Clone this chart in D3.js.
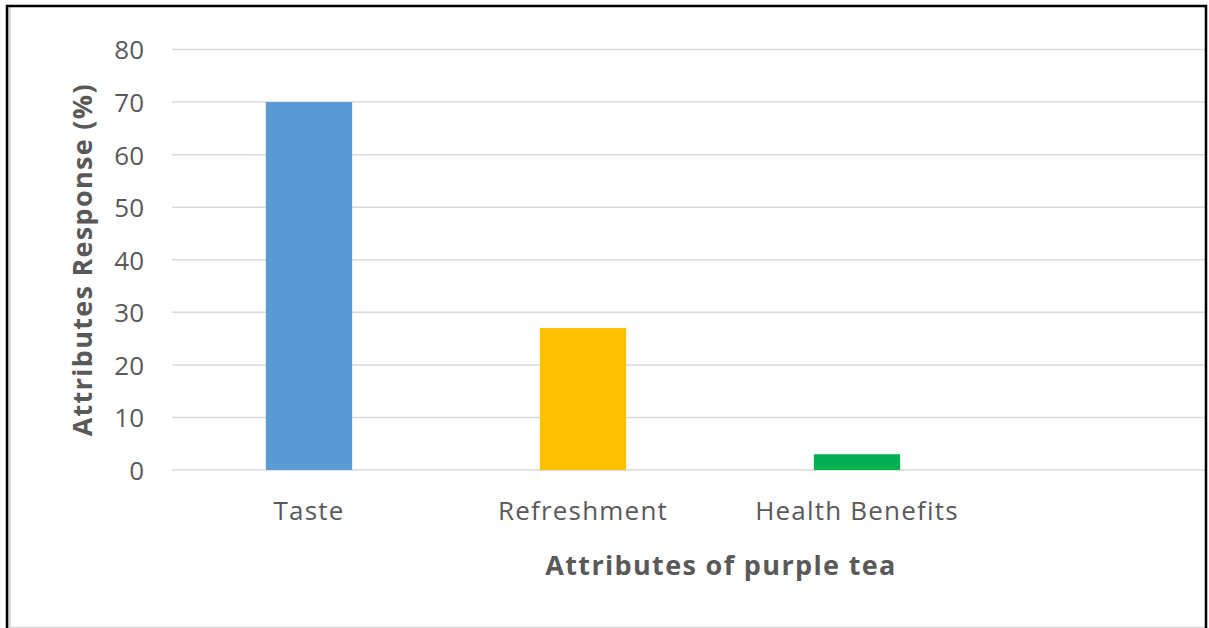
<!DOCTYPE html>
<html>
<head>
<meta charset="utf-8">
<script src="https://cdn.jsdelivr.net/npm/d3@7"></script>
<style>
  html, body { margin: 0; padding: 0; background: #fff; }
  svg { display: block; }
  text { font-family: "Open Sans", Lato, sans-serif; }
</style>
</head>
<body>
<svg id="chart" width="1209" height="628"></svg>
<script>
const categories = ["Taste", "Refreshment", "Health Benefits"];
const values = [70, 27, 3];
const colors = ["#5B9BD5", "#FFC000", "#00B050"];
const yTicks = [0, 10, 20, 30, 40, 50, 60, 70, 80];
const xTitle = "Attributes of purple tea";
const yTitle = "Attributes Response (%)";

const svg = d3.select("#chart");
const W = 1209, H = 628;
const plotLeft = 172, step = 274, gridRight = 1205;
const plotTop = 49.5, plotBottom = 470;
const FONT = "'Open Sans', Lato, sans-serif";

svg.append("rect").attr("x", 0).attr("y", 0).attr("width", W).attr("height", H).attr("fill", "#fff");

const x = d3.scaleBand()
  .domain(categories)
  .range([plotLeft, plotLeft + step * categories.length])
  .paddingInner(0.685)
  .paddingOuter(0.685 / 2);

const y = d3.scaleLinear().domain([0, 80]).range([plotBottom, plotTop]);

// gridlines
svg.append("g")
  .selectAll("line")
  .data(yTicks)
  .join("line")
  .attr("x1", plotLeft).attr("x2", gridRight)
  .attr("y1", d => y(d)).attr("y2", d => y(d))
  .attr("stroke", "#d9d9d9").attr("stroke-width", 1.5);

// y axis labels
const yAxis = d3.axisLeft(y).tickValues(yTicks).tickSize(0).tickPadding(0);
const gy = svg.append("g").attr("transform", `translate(144,0)`).call(yAxis);
gy.select(".domain").remove();
gy.selectAll("text")
  .attr("font-family", FONT)
  .attr("font-size", 26)
  .attr("fill", "#595959")
  .attr("dy", "0.36em");

// bars
svg.append("g")
  .selectAll("rect")
  .data(categories)
  .join("rect")
  .attr("x", d => x(d))
  .attr("width", x.bandwidth())
  .attr("y", (d, i) => y(values[i]))
  .attr("height", (d, i) => y(0) - y(values[i]))
  .attr("fill", (d, i) => colors[i]);

// x axis labels
const xAxis = d3.axisBottom(x).tickSize(0).tickPadding(0);
const gx = svg.append("g").attr("transform", `translate(0,${plotBottom})`).call(xAxis);
gx.select(".domain").remove();
gx.selectAll("text")
  .attr("font-family", FONT)
  .attr("font-size", 26)
  .attr("letter-spacing", 1.2)
  .attr("fill", "#595959")
  .attr("dy", null)
  .attr("y", 50);

// axis titles
svg.append("text")
  .attr("x", 721).attr("y", 575)
  .attr("text-anchor", "middle")
  .attr("font-family", FONT)
  .attr("font-size", 27).attr("font-weight", "bold")
  .attr("letter-spacing", 1.35)
  .attr("fill", "#595959")
  .text(xTitle);

svg.append("text")
  .attr("transform", `translate(92,${(plotTop + plotBottom) / 2}) rotate(-90)`)
  .attr("text-anchor", "middle")
  .attr("font-family", FONT)
  .attr("font-size", 27).attr("font-weight", "bold")
  .attr("letter-spacing", 1.3)
  .attr("fill", "#595959")
  .text(yTitle);

// frames
svg.append("line").attr("x1", 9.5).attr("x2", 9.5).attr("y1", 7).attr("y2", H)
  .attr("stroke", "#d9d9d9").attr("stroke-width", 3);
svg.append("line").attr("x1", 8).attr("x2", 1205).attr("y1", 627.5).attr("y2", 627.5)
  .attr("stroke", "#d9d9d9").attr("stroke-width", 1.5);
svg.append("path")
  .attr("d", `M7,${H} V6 H1206 V${H}`)
  .attr("fill", "none").attr("stroke", "#000").attr("stroke-width", 2.5);
</script>
</body>
</html>
